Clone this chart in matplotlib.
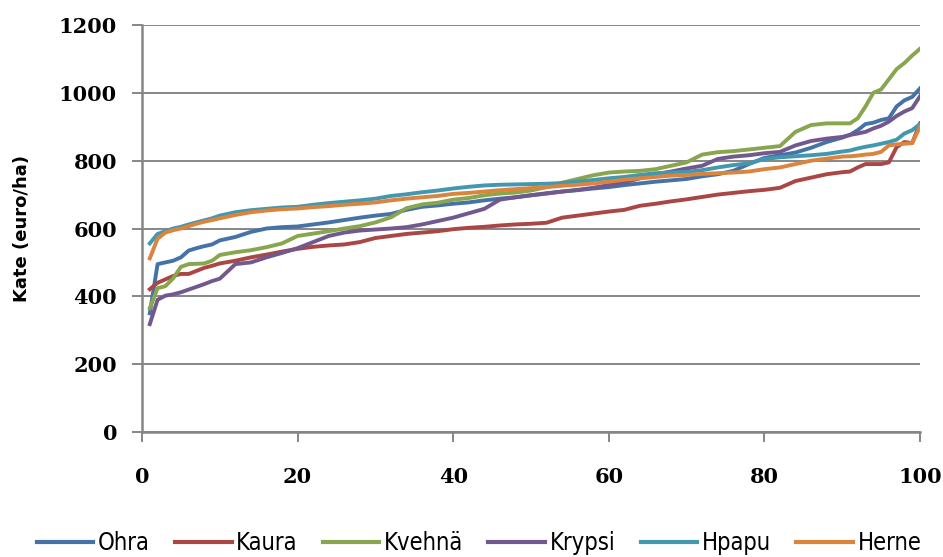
import matplotlib
matplotlib.use("Agg")
import matplotlib.pyplot as plt
from matplotlib import font_manager

rank = [1, 2, 3, 4, 5, 6, 7, 8, 9, 10, 12, 14, 16, 18, 20, 22, 24, 26, 28, 30,
        32, 34, 36, 38, 40, 42, 44, 46, 48, 50, 52, 54, 56, 58, 60, 62, 64, 66, 68, 70,
        72, 74, 76, 78, 80, 82, 84, 86, 88, 90, 91, 92, 93, 94, 95, 96, 97, 98, 99, 100]

ohra = [350, 495, 500, 505, 515, 535, 542, 548, 553, 565, 575, 590, 600, 604, 606, 612, 618, 625, 632, 638,
        643, 655, 664, 668, 673, 677, 683, 688, 692, 698, 704, 709, 713, 718, 722, 728, 733, 738, 742, 746,
        754, 760, 770, 790, 808, 816, 824, 838, 855, 868, 876, 890, 908, 912, 920, 925, 960, 978, 988, 1013]

kaura = [421, 440, 450, 460, 466, 466, 475, 484, 490, 497, 505, 515, 523, 532, 540, 546, 550, 553, 560, 572,
         578, 584, 588, 592, 598, 602, 605, 609, 612, 614, 617, 632, 638, 644, 650, 655, 667, 673, 680, 686,
         693, 700, 705, 710, 714, 720, 740, 750, 760, 766, 768, 780, 790, 790, 790, 795, 840, 855, 852, 910]

kvehna = [365, 424, 430, 453, 487, 495, 496, 497, 505, 522, 530, 536, 545, 556, 578, 585, 592, 600, 607, 618,
          633, 660, 671, 676, 685, 690, 698, 703, 706, 712, 722, 735, 746, 757, 765, 768, 770, 775, 785, 795,
          818, 825, 828, 833, 838, 843, 885, 905, 910, 910, 910, 925, 960, 1000, 1010, 1040, 1070, 1088, 1110, 1130]

krypsi = [318, 390, 402, 406, 412, 420, 428, 436, 445, 452, 495, 500, 515, 528, 542, 560, 578, 588, 594, 597,
          600, 604, 612, 622, 632, 645, 658, 685, 692, 698, 703, 709, 714, 720, 728, 736, 748, 760, 768, 777,
          785, 805, 812, 816, 822, 826, 845, 858, 865, 870, 876, 880, 885, 895, 903, 915, 932, 945, 955, 990]

hpapu = [556, 584, 592, 600, 605, 612, 618, 624, 630, 638, 648, 654, 658, 662, 664, 670, 675, 679, 683, 688,
         696, 701, 707, 712, 718, 723, 727, 729, 730, 731, 732, 734, 738, 743, 748, 752, 758, 763, 765, 767,
         772, 780, 787, 792, 805, 810, 813, 816, 820, 827, 830, 836, 841, 845, 850, 855, 862, 880, 890, 908]

herne = [512, 570, 588, 595, 600, 607, 614, 620, 625, 630, 640, 648, 653, 657, 659, 663, 666, 670, 673, 677,
         683, 688, 692, 696, 702, 705, 709, 713, 716, 719, 722, 726, 729, 733, 738, 744, 748, 752, 756, 758,
         761, 763, 765, 768, 775, 780, 790, 800, 806, 812, 813, 815, 818, 820, 826, 845, 848, 850, 852, 900]

names = ["Ohra", "Kaura", "Kvehnä", "Krypsi", "Hpapu", "Herne"]
colors = ["#4572A7", "#AA4643", "#89A54E", "#71588F", "#4198AF", "#DB843D"]
series = [ohra, kaura, kvehna, krypsi, hpapu, herne]

grid_col = "#868686"

# condensed face for the legend if there is one
narrow = any("Condensed" in f.fname for f in font_manager.fontManager.ttflist)

fig = plt.figure(figsize=(9.43, 5.57), dpi=100)
ax = fig.add_axes([0.1506, 0.2244, 0.825, 0.7307])

for vals, name, col in zip(series, names, colors):
    ax.plot(rank, vals, color=col, lw=2.8, label=name, solid_joinstyle="round")

ax.set_xlim(0, 100)
ax.set_ylim(0, 1200)
ax.set_xticks(range(0, 101, 20))
ax.set_yticks(range(0, 1201, 200))
ax.yaxis.grid(True, color=grid_col, lw=1.4)
ax.set_axisbelow(True)

for s in ["top", "right"]:
    ax.spines[s].set_visible(False)
for s in ["left", "bottom"]:
    ax.spines[s].set_color(grid_col)
    ax.spines[s].set_linewidth(1.8)

ax.tick_params(axis="y", length=7, width=1.4, color=grid_col, pad=11, labelsize=15)
ax.tick_params(axis="x", length=7, width=1.4, color=grid_col, pad=18, labelsize=15)
for lab in ax.get_xticklabels() + ax.get_yticklabels():
    lab.set_family("DejaVu Serif")
    lab.set_fontweight("bold")

ax.set_ylabel("Kate (euro/ha)", fontsize=13, fontweight="bold", labelpad=20)

if narrow:
    prop = {"family": "DejaVu Sans", "stretch": "condensed", "size": 17}
else:
    prop = {"family": "DejaVu Sans", "size": 15.5}
fig.legend(loc="center", bbox_to_anchor=(0.508, 0.025), ncol=6, frameon=False, prop=prop,
           handlelength=2.4, handletextpad=0.2, columnspacing=1.06)
for h in fig.legends[0].legend_handles:
    h.set_linewidth(3)

fig.savefig("out.png", dpi=100)
